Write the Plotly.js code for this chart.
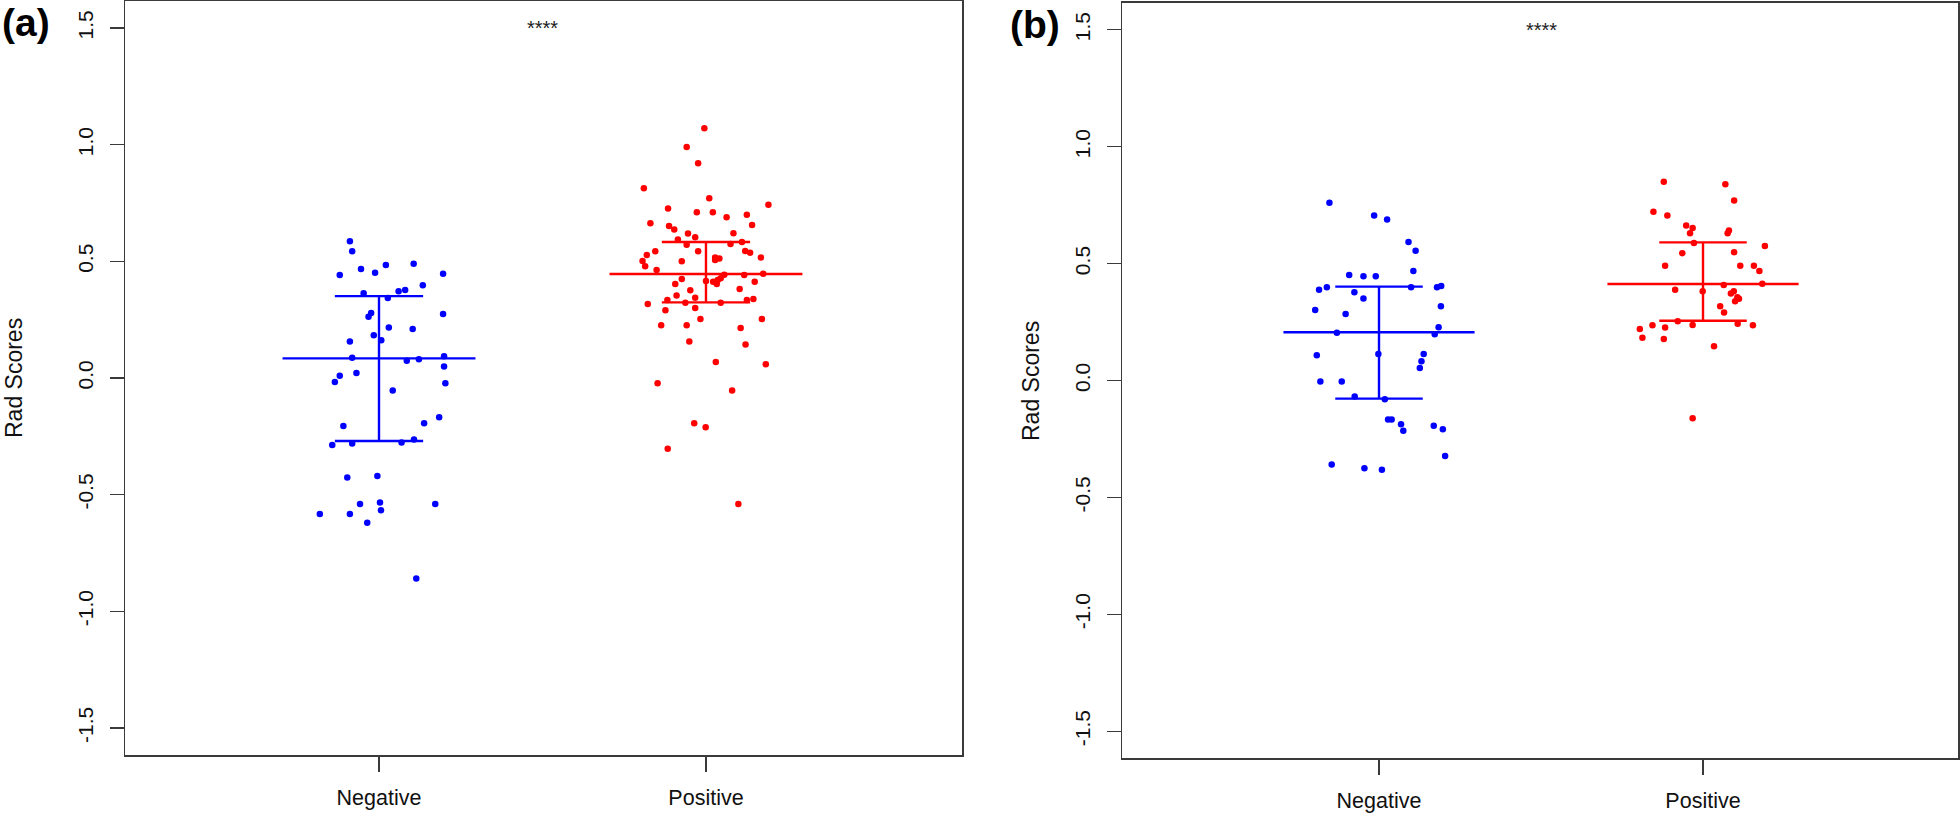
<!DOCTYPE html>
<html>
<head>
<meta charset="utf-8">
<script src="https://cdn.plot.ly/plotly-3.0.1.min.js"></script>
<style>
html,body{margin:0;padding:0;background:#fff;}
#chart{width:1960px;height:814px;}
</style>
</head>
<body>
<div id="chart"></div>
<script>
// ---------- data ----------
const categories = ['Negative', 'Positive'];
const yTickVals = [-1.5, -1.0, -0.5, 0.0, 0.5, 1.0, 1.5];
const yTickText = ['-1.5', '-1.0', '-0.5', '0.0', '0.5', '1.0', '1.5'];

// Panel (a) - Negative group
const negA_y = [0.586,0.543,0.441,0.467,0.451,0.484,0.490,0.447,0.397,0.372,0.377,0.363,0.343,0.279,0.263,0.274,0.216,0.210,0.183,0.162,0.156,0.087,0.074,0.080,0.093,0.049,0.010,-0.017,0.021,-0.023,-0.054,-0.206,-0.194,-0.168,-0.287,-0.281,-0.276,-0.264,-0.426,-0.420,-0.540,-0.534,-0.567,-0.540,-0.583,-0.583,-0.620,-0.859];
const negA_jit = [-0.089,-0.082,-0.120,-0.055,-0.012,0.021,0.106,0.196,0.134,0.060,0.080,-0.047,0.027,-0.024,-0.032,0.196,0.030,0.103,-0.016,0.007,-0.089,-0.082,0.085,0.122,0.199,0.199,-0.120,-0.135,-0.069,0.203,0.042,-0.109,0.138,0.184,-0.143,-0.082,0.069,0.107,-0.097,-0.005,-0.058,0.003,0.006,0.172,-0.181,-0.089,-0.036,0.114];

// Panel (a) - Positive group
const posA_y = [1.070,0.990,0.920,0.813,0.770,0.743,0.727,0.710,0.710,0.689,0.700,0.656,0.663,0.652,0.636,0.619,0.603,0.620,0.594,0.571,0.574,0.583,0.543,0.543,0.544,0.537,0.527,0.501,0.479,0.517,0.517,0.512,0.506,0.500,0.463,0.447,0.441,0.443,0.427,0.420,0.416,0.413,0.403,0.424,0.403,0.413,0.376,0.381,0.354,0.344,0.334,0.323,0.323,0.334,0.339,0.317,0.290,0.300,0.253,0.253,0.226,0.226,0.214,0.156,0.144,0.069,0.059,-0.023,-0.054,-0.194,-0.211,-0.303,-0.540];
const posA_jit = [-0.005,-0.059,-0.024,-0.190,0.010,0.191,-0.116,-0.028,0.021,0.063,0.125,0.141,-0.170,-0.113,-0.097,-0.055,-0.033,0.084,-0.086,-0.059,0.075,0.110,-0.155,-0.024,0.120,0.135,-0.181,-0.194,-0.186,0.168,0.028,0.041,0.028,-0.074,-0.151,0.175,0.117,0.056,0.045,0.036,0.000,0.022,0.033,-0.074,-0.094,0.149,-0.048,0.103,-0.090,-0.033,-0.118,-0.063,0.045,0.125,0.145,-0.178,-0.124,-0.033,-0.017,0.171,-0.137,-0.059,0.106,-0.051,0.121,0.030,0.183,-0.148,0.080,-0.036,-0.001,-0.117,0.099];

// Panel (b) - Negative group
const negB_y = [0.760,0.706,0.689,0.593,0.555,0.469,0.452,0.446,0.446,0.388,0.399,0.399,0.399,0.405,0.378,0.351,0.318,0.302,0.285,0.228,0.205,0.198,0.108,0.114,0.114,0.083,0.054,-0.004,-0.004,-0.068,-0.080,-0.166,-0.166,-0.187,-0.214,-0.193,-0.208,-0.322,-0.359,-0.375,-0.381];
const negB_jit = [-0.153,-0.015,0.025,0.091,0.113,0.106,-0.092,-0.048,-0.010,-0.185,-0.161,0.099,0.179,0.192,-0.076,-0.048,0.191,-0.197,-0.103,0.184,-0.130,0.172,-0.192,-0.002,0.138,0.131,0.126,-0.181,-0.115,-0.075,0.018,0.028,0.039,0.068,0.075,0.169,0.197,0.204,-0.146,-0.045,0.009];

// Panel (b) - Positive group
const posB_y = [0.850,0.840,0.770,0.722,0.706,0.663,0.652,0.630,0.642,0.630,0.588,0.576,0.545,0.549,0.491,0.491,0.491,0.469,0.409,0.414,0.388,0.382,0.372,0.382,0.356,0.350,0.339,0.318,0.291,0.254,0.237,0.227,0.238,0.243,0.237,0.221,0.183,0.178,0.147,-0.161];
const posB_jit = [-0.121,0.069,0.096,-0.153,-0.110,-0.052,-0.032,-0.040,0.080,0.076,-0.028,0.191,-0.064,0.096,-0.117,0.115,0.157,0.174,0.064,0.183,-0.086,-0.001,0.086,0.095,0.106,0.111,0.099,0.053,0.065,-0.078,-0.156,-0.117,-0.032,0.107,0.154,-0.195,-0.187,-0.121,0.034,-0.032];

// Summary lines (centre, lower, upper) per group
const centerA = [0.084, 0.446];
const lowerA  = [-0.270, 0.324];
const upperA  = [0.351, 0.583];
const centerB = [0.207, 0.413];
const lowerB  = [-0.077, 0.256];
const upperB  = [0.402, 0.591];

const sigLabel = '****';
const yTitle = 'Rad Scores';
const panelLabels = ['(a)', '(b)'];

// ---------- build ----------
const W = 1960, H = 814;
const BLUE = '#0000FF', RED = '#FF0000';
const FONT = 'Liberation Sans, Arial, sans-serif';
const colors = [BLUE, RED];

function pointsTrace(ys, jit, groupIdx, xa, ya) {
  return {
    type: 'scatter', mode: 'markers',
    x: ys.map((v, i) => groupIdx + 1 + jit[i]), y: ys,
    xaxis: xa, yaxis: ya,
    marker: {color: colors[groupIdx], size: 6.5, line: {width: 0}},
    hoverinfo: 'skip', showlegend: false
  };
}
function summaryTraces(center, lower, upper, xa, ya) {
  const out = [];
  const wide = 0.295, narrow = 0.135;
  for (let g = 0; g < 2; g++) {
    const c = g + 1;
    const segs = [
      [[c - wide, c + wide], [center[g], center[g]]],
      [[c - narrow, c + narrow], [upper[g], upper[g]]],
      [[c - narrow, c + narrow], [lower[g], lower[g]]],
      [[c, c], [lower[g], upper[g]]]
    ];
    segs.forEach(s => out.push({
      type: 'scatter', mode: 'lines', x: s[0], y: s[1], xaxis: xa, yaxis: ya,
      line: {color: colors[g], width: 2.4}, hoverinfo: 'skip', showlegend: false
    }));
  }
  return out;
}

const data = [
  ...summaryTraces(centerA, lowerA, upperA, 'x', 'y'),
  pointsTrace(negA_y, negA_jit, 0, 'x', 'y'),
  pointsTrace(posA_y, posA_jit, 1, 'x', 'y'),
  ...summaryTraces(centerB, lowerB, upperB, 'x2', 'y2'),
  pointsTrace(negB_y, negB_jit, 0, 'x2', 'y2'),
  pointsTrace(posB_y, posB_jit, 1, 'x2', 'y2')
];

const axisLine = {showline: true, mirror: true, linecolor: '#3a3a3a', linewidth: 1.5,
  showgrid: false, zeroline: false};

function xAxis(domain, range, anchor) {
  return Object.assign({}, axisLine, {
    domain: domain, range: range, anchor: anchor,
    tickmode: 'array', tickvals: [1, 2], ticktext: categories,
    ticks: 'outside', ticklen: 15, tickwidth: 1.3, tickcolor: '#3a3a3a',
    ticklabelstandoff: 8,
    tickfont: {family: FONT, size: 21.5, color: '#111'}
  });
}
function yAxis(domain, range, anchor) {
  return Object.assign({}, axisLine, {
    domain: domain, range: range, anchor: anchor,
    tickmode: 'array', tickvals: yTickVals, ticktext: yTickText,
    ticks: 'outside', ticklen: 14, tickwidth: 1.3, tickcolor: '#3a3a3a',
    tickangle: -90, ticklabelstandoff: 8,
    tickfont: {family: FONT, size: 21, color: '#111'}
  });
}

const layout = {
  width: W, height: H,
  margin: {l: 0, r: 0, t: 0, b: 0},
  paper_bgcolor: '#fff', plot_bgcolor: '#fff',
  showlegend: false,
  xaxis: xAxis([125 / W, 962 / W], [0.2232, 2.783], 'y'),
  yaxis: yAxis([1 - 755 / H, 1 - 0.75 / H], [-1.616, 1.617], 'x'),
  xaxis2: xAxis([1122 / W, 1958 / W], [0.2068, 2.787], 'y2'),
  yaxis2: yAxis([1 - 758 / H, 1 - 2.7 / H], [-1.614, 1.616], 'x2'),
  annotations: [
    {xref: 'x', yref: 'y', x: 1.5, y: 1.5, text: sigLabel, showarrow: false,
     font: {family: FONT, size: 20, color: '#222'}, yanchor: 'middle'},
    {xref: 'x2', yref: 'y2', x: 1.5, y: 1.5, text: sigLabel, showarrow: false,
     font: {family: FONT, size: 20, color: '#222'}, yanchor: 'middle'},
    {xref: 'paper', yref: 'paper', x: 14 / W, y: 1 - 378 / H, text: yTitle, textangle: -90,
     showarrow: false, xanchor: 'center', yanchor: 'middle',
     font: {family: FONT, size: 23, color: '#111'}},
    {xref: 'paper', yref: 'paper', x: 1031 / W, y: 1 - 381 / H, text: yTitle, textangle: -90,
     showarrow: false, xanchor: 'center', yanchor: 'middle',
     font: {family: FONT, size: 23, color: '#111'}},
    {xref: 'paper', yref: 'paper', x: 0 / W, y: 1 - 23 / H, text: '<b>' + panelLabels[0] + '</b>',
     showarrow: false, xanchor: 'left', yanchor: 'middle',
     font: {family: FONT, size: 39, color: '#000'}},
    {xref: 'paper', yref: 'paper', x: 1008 / W, y: 1 - 24 / H, text: '<b>' + panelLabels[1] + '</b>',
     showarrow: false, xanchor: 'left', yanchor: 'middle',
     font: {family: FONT, size: 39, color: '#000'}}
  ]
};

Plotly.newPlot('chart', data, layout, {staticPlot: true, displayModeBar: false});
</script>
</body>
</html>
